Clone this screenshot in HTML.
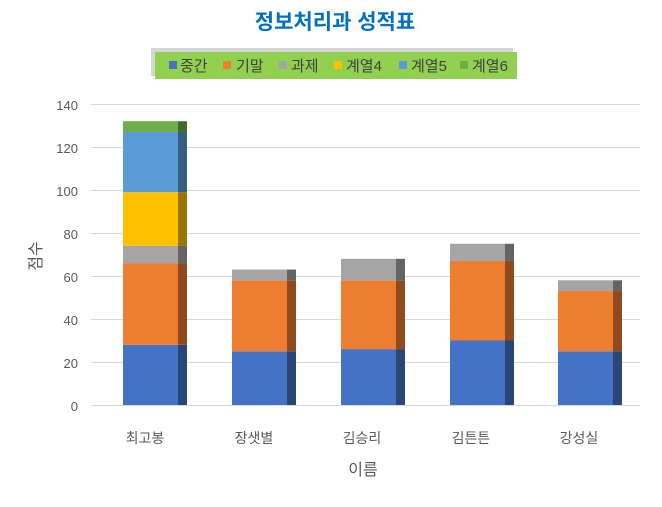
<!DOCTYPE html>
<html><head><meta charset="utf-8"><style>
body{margin:0;background:#fff}
svg text{font-family:"Liberation Sans","Noto Sans CJK KR",sans-serif}
</style></head><body>
<svg width="662" height="502" xmlns="http://www.w3.org/2000/svg">
<rect width="662" height="502" fill="#fff"/>
<text x="335" y="29" text-anchor="middle" font-size="21" font-weight="bold" fill="#0070c0">정보처리과 성적표</text>
<rect x="151" y="48" width="362" height="28" fill="#bbb" opacity="0.6"/>
<rect x="155" y="52" width="362" height="27" fill="#92d050"/>
<g font-size="15" fill="#404040">
<rect x="169" y="61" width="8" height="8" fill="#4472c4"/><text x="180" y="71">중간</text>
<rect x="223" y="61" width="8" height="8" fill="#ed7d31"/><text x="236" y="71">기말</text>
<rect x="279" y="61" width="8" height="8" fill="#a5a5a5"/><text x="291" y="71">과제</text>
<rect x="334" y="61" width="8" height="8" fill="#ffc000"/><text x="346" y="71">계열4</text>
<rect x="399" y="61" width="8" height="8" fill="#5b9bd5"/><text x="411" y="71">계열5</text>
<rect x="460" y="61" width="8" height="8" fill="#70ad47"/><text x="472" y="71">계열6</text>
</g>
<g stroke="#d9d9d9" stroke-width="1">
<line x1="91" y1="104.5" x2="640" y2="104.5"/><line x1="91" y1="147.5" x2="640" y2="147.5"/>
<line x1="91" y1="190.5" x2="640" y2="190.5"/><line x1="91" y1="233.5" x2="640" y2="233.5"/>
<line x1="91" y1="276.5" x2="640" y2="276.5"/><line x1="91" y1="319.5" x2="640" y2="319.5"/>
<line x1="91" y1="362.5" x2="640" y2="362.5"/><line x1="91" y1="405.5" x2="640" y2="405.5"/>
</g>
<g font-size="13" fill="#595959" text-anchor="end">
<text x="78" y="110">140</text><text x="78" y="153">120</text><text x="78" y="196">100</text>
<text x="78" y="239">80</text><text x="78" y="282">60</text><text x="78" y="325">40</text>
<text x="78" y="368">20</text><text x="78" y="411">0</text>
</g>
<!-- bar 0 -->
<rect x="123" y="344.8" width="55" height="60.2" fill="#4472c4"/><rect x="178" y="344.8" width="9" height="60.2" fill="#2a4677"/>
<rect x="123" y="263.1" width="55" height="81.7" fill="#ed7d31"/><rect x="178" y="263.1" width="9" height="81.7" fill="#8f4b1d"/>
<rect x="123" y="245.9" width="55" height="17.2" fill="#a5a5a5"/><rect x="178" y="245.9" width="9" height="17.2" fill="#646464"/>
<rect x="123" y="192.15" width="55" height="53.75" fill="#ffc000"/><rect x="178" y="192.15" width="9" height="53.75" fill="#9a7400"/>
<rect x="123" y="131.95" width="55" height="60.2" fill="#5b9bd5"/><rect x="178" y="131.95" width="9" height="60.2" fill="#375e81"/>
<rect x="123" y="121.2" width="55" height="10.75" fill="#70ad47"/><rect x="178" y="121.2" width="9" height="10.75" fill="#44692b"/>
<!-- bar 1 -->
<rect x="232" y="351.25" width="55" height="53.75" fill="#4472c4"/><rect x="287" y="351.25" width="9" height="53.75" fill="#2a4677"/>
<rect x="232" y="280.3" width="55" height="70.95" fill="#ed7d31"/><rect x="287" y="280.3" width="9" height="70.95" fill="#8f4b1d"/>
<rect x="232" y="269.55" width="55" height="10.75" fill="#a5a5a5"/><rect x="287" y="269.55" width="9" height="10.75" fill="#646464"/>
<!-- bar 2 -->
<rect x="341" y="349.1" width="55" height="55.9" fill="#4472c4"/><rect x="396" y="349.1" width="9" height="55.9" fill="#2a4677"/>
<rect x="341" y="280.3" width="55" height="68.8" fill="#ed7d31"/><rect x="396" y="280.3" width="9" height="68.8" fill="#8f4b1d"/>
<rect x="341" y="258.8" width="55" height="21.5" fill="#a5a5a5"/><rect x="396" y="258.8" width="9" height="21.5" fill="#646464"/>
<!-- bar 3 -->
<rect x="450" y="340.5" width="55" height="64.5" fill="#4472c4"/><rect x="505" y="340.5" width="9" height="64.5" fill="#2a4677"/>
<rect x="450" y="260.95" width="55" height="79.55" fill="#ed7d31"/><rect x="505" y="260.95" width="9" height="79.55" fill="#8f4b1d"/>
<rect x="450" y="243.75" width="55" height="17.2" fill="#a5a5a5"/><rect x="505" y="243.75" width="9" height="17.2" fill="#646464"/>
<!-- bar 4 -->
<rect x="558" y="351.25" width="55" height="53.75" fill="#4472c4"/><rect x="613" y="351.25" width="9" height="53.75" fill="#2a4677"/>
<rect x="558" y="291.05" width="55" height="60.2" fill="#ed7d31"/><rect x="613" y="291.05" width="9" height="60.2" fill="#8f4b1d"/>
<rect x="558" y="280.3" width="55" height="10.75" fill="#a5a5a5"/><rect x="613" y="280.3" width="9" height="10.75" fill="#646464"/>
<g font-size="14" fill="#595959" text-anchor="middle">
<text x="145" y="443">최고봉</text><text x="254" y="443">장샛별</text><text x="362" y="443">김승리</text>
<text x="471" y="443">김튼튼</text><text x="579" y="443">강성실</text>
</g>
<text x="363" y="475" font-size="16" fill="#595959" text-anchor="middle">이름</text>
<text transform="translate(41,256) rotate(-90)" font-size="16" fill="#595959" text-anchor="middle">점수</text>
</svg>
</body></html>
